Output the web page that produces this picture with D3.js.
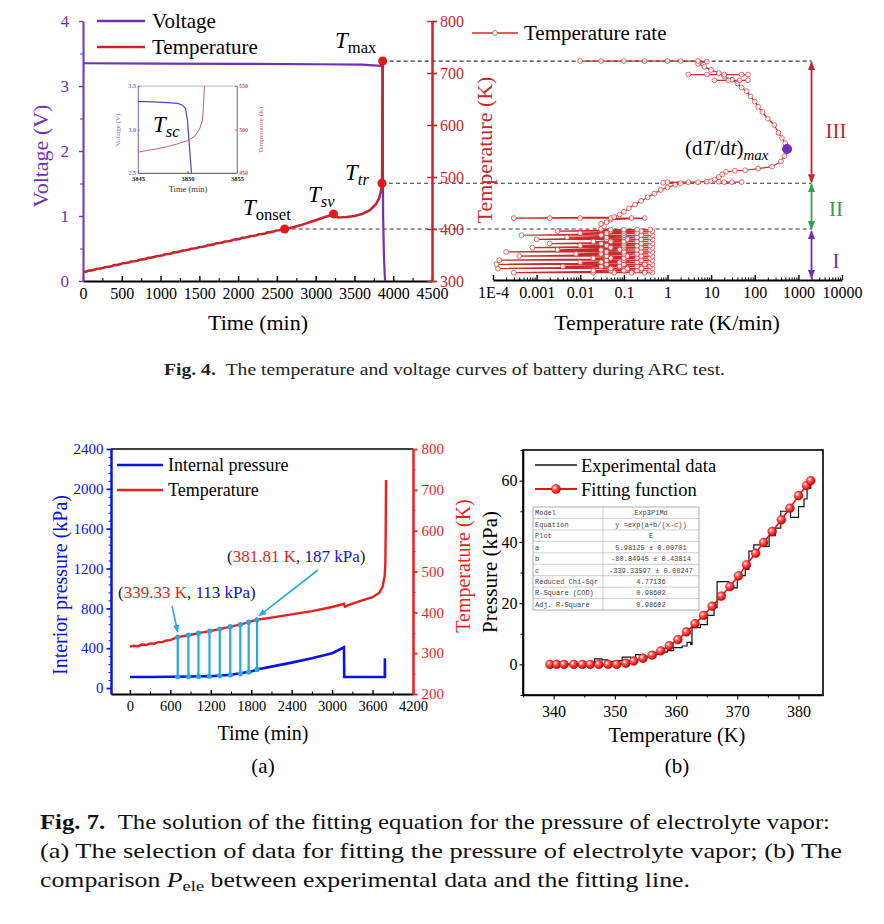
<!DOCTYPE html>
<html>
<head>
<meta charset="utf-8">
<script src="https://cdn.jsdelivr.net/npm/d3@7"></script>
<style>body{margin:0;background:#fff}</style>
</head>
<body>
<div id="chart"></div>
<script>
// ---------- data ----------
// Fig. 4 left: ARC test
const arcTime = [0,40,70,110,150,180,220,260,290,330,370,400,440,480,510,550,590,620,660,700,730,770,810,840,880,920,950,990,1030,1060,1100,1140,1170,1210,1250,1280,1320,1360,1390,1430,1470,1500,1540,1580,1610,1650,1690,1720,1760,1800,1830,1870,1910,1940,1980,2020,2050,2090,2130,2160,2200,2240,2270,2310,2350,2380,2420,2460,2490,2530,2600,2700,2800,2900,3000,3100,3200,3230,3250,3300,3400,3500,3600,3700,3780,3820,3845,3855,3858,3860,3862,3864];
const arcTemp = [317,318,320,320.5,321.5,323.5,324,325,327,327.5,328.5,330.5,331,332,334,334.5,335.5,337.5,338,339,341,341.5,342.5,344.5,345,346,348,348.5,349.5,351.5,352,353,355,355.5,356.5,358.5,359,360,362,362.5,363.5,365.5,366,367,369,369.5,370.5,372.5,373,374,376,376.5,377.5,379.5,380,381,383,383.5,384.5,386.5,387,388,390,390.5,391.5,393.5,394,395,397,397.5,400,403,407,412,417,422,427,429,424,422,423,425,429,436,448,460,475,488,520,600,680,723];
const voltTime = [0,1000,2000,3000,3600,3840,3860,3864,3866,3870,3880,3890,3895];
const voltValue = [3.35,3.345,3.34,3.335,3.33,3.31,3.30,3.2,2.0,1.0,0.4,0.1,0];
const keyPointTime = [2600,3230,3855,3864];
const keyPointTemp = [400,429,488,723];

// inset (short circuit)
const insetTime = [3845,3846,3847,3848,3849,3849.5,3849.8,3850,3850.2,3850.4];
const insetVolt = [3.32,3.32,3.315,3.31,3.30,3.28,3.24,3.1,2.8,2.5];
const insetTTime = [3845,3846,3847,3848,3849,3850,3850.7,3851.2,3851.5,3851.6,3851.7];
const insetTemp = [474,476,478,480.5,483.5,487,492,500,510,525,550];

// Fig. 4 right: temperature rate (K/min) vs temperature (K)
const rateLow = [
  [0.45,316],[0.3,316],[0.15,316],[0.06,316],[0.02,316],[3e-4,316],
  [0.4,320],[0.2,320],[0.1,320],[0.05,320],[0.02,320],
  [0.45,324],[0.25,324],[0.12,324],[0.05,324],[1.3e-4,324],
  [0.4,328],[0.2,328],[0.08,328],[0.03,328],[0.004,328],
  [0.45,332],[0.3,332],[0.1,332],[0.04,332],[1.2e-4,332],
  [0.4,336],[0.2,336],[0.08,336],[0.03,336],[0.01,336],
  [0.45,340],[0.25,340],[0.1,340],[0.04,340],[1.4e-4,340],
  [0.4,344],[0.2,344],[0.1,344],[0.05,344],[0.02,344],
  [0.45,348],[0.25,348],[0.12,348],[0.04,348],[4e-4,348],
  [0.4,352],[0.2,352],[0.1,352],[0.03,352],[0.008,352],
  [0.45,356],[0.25,356],[0.1,356],[0.04,356],[2e-4,356],
  [0.4,360],[0.2,360],[0.08,360],[0.03,360],[0.003,360],
  [0.45,364],[0.25,364],[0.1,364],[0.05,364],[8e-4,364],
  [0.4,368],[0.2,368],[0.1,368],[0.04,368],[0.01,368],
  [0.45,372],[0.25,372],[0.1,372],[0.03,372],[0.002,372],
  [0.4,376],[0.2,376],[0.1,376],[0.05,376],[0.02,376],
  [0.45,380],[0.25,380],[0.12,380],[0.04,380],[1e-3,380],
  [0.4,384],[0.2,384],[0.1,384],[0.04,384],[0.005,384],
  [0.45,388],[0.25,388],[0.1,388],[0.03,388],[4.5e-4,388],
  [0.4,392],[0.2,392],[0.1,392],[0.04,392],[0.01,392],
  [0.45,396],[0.25,396],[0.1,396],[0.05,396],[0.003,396],
  [0.4,399],[0.2,399],[0.1,399],[0.05,399],[0.03,400]
];
const rateHigh = [
  [0.035,405],[0.03,410],[0.04,413],[0.05,418],[0.3,421],[0.15,421],[0.05,421],[0.01,421],[0.002,421],[3e-4,421],
  [0.06,423],[0.08,428],[0.1,433],[0.13,440],[0.18,447],[0.25,454],[0.35,461],[0.5,468],[0.7,475],[1,480],[1.5,485],[2,488],
  [0.8,489],[1,490],[3,490],[5,490],[8,491],[15,491],[30,490],[50,490],[20,490],[10,492],
  [12,495],[15,500],[18,505],[22,510],[35,512],[60,513],[120,516],[250,520],[400,530],[480,540],[550,554],
  [500,565],[420,575],[350,585],[280,600],[200,612],[150,625],[120,635],[100,645],[80,655],[65,665],[50,672],[40,680],[30,687],[20,693],[15,700],[10,706],[7,712],[5,718],[8,722],
  [5,723],[2,723],[1,723],[0.3,723],[0.1,723],[0.03,723],[0.01,723]
];
const rateBranchA = [[3,697],[8,697],[20,697],[50,697],[70,697]];
const rateBranchB = [[12,686],[25,686],[45,686],[70,686]];
const rateMax = [550,554];
const rateTickValues = [1e-4,1e-3,1e-2,1e-1,1,10,100,1000,10000];
const rateTickLabels = ["1E-4","0.001","0.01","0.1","1","10","100","1000","10000"];

// Fig. 7 (a)
const pressTime = [0,300,600,900,1200,1500,1800,1900,2100,2400,2700,3000,3176,3180,3782,3783,3785,3800];
const pressValue = [110,111,113,115,119,133,165,188,215,255,300,350,409,110,110,300,110,110];
const tempATime = [0,60,120,180,240,300,360,420,480,540,600,660,710,868,1017,1181,1334,1489,1638,1762,1886,2100,2400,2700,3000,3176,3190,3250,3400,3600,3700,3750,3780,3790,3795,3800,3803];
const tempAValue = [316,318,317,321,320,324,323,327,327,331,332,336,339.3,344,349,354,359,365,370,376,381.8,387,395,403,413,421,414,418,427,437,448,463,490,520,600,724,705];
const selTime = [710,868,1017,1181,1334,1489,1638,1762,1886];
const selTemp = [339.3,344,349,354,359,365,370,376,381.8];
const selPress = [113,114,116,119,124,132,143,160,187];
const noteLabels = [["339.33 K","113 kPa"],["381.81 K","187 kPa"]];

// Fig. 7 (b)
const fitT = [339.4,340.5,341.7,343.3,344.7,346.0,347.4,348.9,350.3,351.8,353.1,354.6,356.1,357.5,358.9,360.3,361.7,363.1,364.5,365.9,367.4,368.8,370.2,371.5,373.0,374.3,375.7,377.2,378.6,380.0,381.3,382.0];
const fitP = [0,0,0,0,0,0,0,0,0,0.4,1.1,2.0,3.0,4.4,6.1,8.1,10.6,13.3,16.0,19.0,22.3,25.4,28.9,32.5,36.3,39.8,43.4,47.2,51.0,55.1,58.4,60.0];
const expT = [339.4,346.3,346.7,347.9,348.8,350.4,351.2,352.6,353.4,354.7,356.1,357.2,358.6,359.6,361.0,361.8,362.4,362.6,364.0,365.1,366.2,366.7,367.8,368.6,370.0,371.3,371.9,372.7,374.3,375.2,376.2,377.1,378.7,380.0,380.9,381.4,382.0];
const expP = [0,0.2,1.8,1.5,1.0,1.2,2.4,2.0,3.2,2.6,3.3,4.0,4.5,5.5,6.0,7.2,6.5,12,13,16,18.5,27,27,25,29,31,37,39,38.5,42,44.5,50,48,51.5,54,57.5,59];
const tableLabels = ["Model","Equation","Plot","a","b","c","Reduced Chi-Sqr","R-Square (COD)","Adj. R-Square"];
const tableValues = ["Exp3P1Md","y =exp(a+b/(x-c))","E","5.98125 \u00b1 0.00701","-80.84945 \u00b1 0.43814","-339.33597 \u00b1 0.08247","4.77136","0.98602","0.98602"];

// ---------- drawing ----------
const FONT = "'Liberation Serif','Times New Roman',serif";
const C_PURPLE = "#7030b8";
const C_DRED = "#c4262c";
const C_RED = "#ee1c1c";
const C_BLUE = "#0a10ee";
const C_LBLUE = "#2aa7e0";
const C_GREEN = "#2e9e4f";
const fmtInt = d3.format("d");

const svg = d3.select("#chart").append("svg")
    .attr("width", 884).attr("height", 924)
    .style("background", "#ffffff");
const defs = svg.append("defs");

function fn_marker(id, color, size) {
    defs.append("marker").attr("id", id)
        .attr("viewBox", "0 0 10 10").attr("refX", 9).attr("refY", 5)
        .attr("markerWidth", size).attr("markerHeight", size)
        .attr("orient", "auto-start-reverse")
        .append("path").attr("d", "M0,1 L10,5 L0,9 z").attr("fill", color);
}
fn_marker("arr_red", C_DRED, 5);
fn_marker("arr_green", C_GREEN, 5);
fn_marker("arr_purple", C_PURPLE, 5);
fn_marker("arr_lblue", C_LBLUE, 5);

const ball = defs.append("radialGradient").attr("id", "ball")
    .attr("cx", "35%").attr("cy", "35%").attr("r", "65%");
ball.append("stop").attr("offset", "0%").attr("stop-color", "#ffffff");
ball.append("stop").attr("offset", "35%").attr("stop-color", "#ff6060");
ball.append("stop").attr("offset", "100%").attr("stop-color", "#d00000");

function fn_style_axis(g, color, size, width) {
    g.select(".domain").attr("stroke", color).attr("stroke-width", width);
    g.selectAll(".tick line").attr("stroke", color).attr("stroke-width", Math.max(1, width * 0.7));
    g.selectAll(".tick text").attr("fill", color)
        .style("font-family", FONT).style("font-size", size + "px");
    return g;
}
function fn_minor(g) {
    g.select(".domain").remove();
    return g;
}
function fn_text(parent, x, y, str, size, color, anchor) {
    return parent.append("text").attr("x", x).attr("y", y).text(str)
        .style("font-family", FONT).style("font-size", size + "px")
        .attr("fill", color || "#000").attr("text-anchor", anchor || "start");
}
function fn_vtext(parent, x, y, str, size, color) {
    return parent.append("text")
        .attr("transform", "translate(" + x + "," + y + ") rotate(-90)")
        .attr("text-anchor", "middle").attr("dominant-baseline", "central").text(str)
        .style("font-family", FONT).style("font-size", size + "px").attr("fill", color);
}
function fn_sub_label(parent, x, y, main, sub, size, subItalic) {
    let t = parent.append("text").attr("x", x).attr("y", y)
        .style("font-family", FONT).style("font-size", size + "px");
    t.append("tspan").text(main).style("font-style", "italic");
    t.append("tspan").text(sub).attr("dy", size * 0.22)
        .style("font-size", (size * 0.72) + "px")
        .style("font-style", subItalic ? "italic" : "normal");
    return t;
}

// shared scales of Fig. 4
const xTime = d3.scaleLinear().domain([0, 4500]).range([83, 432]);
const yVolt = d3.scaleLinear().domain([0, 4]).range([281, 21]);
const yTemp = d3.scaleLinear().domain([300, 800]).range([281, 21]);
const xRate = d3.scaleLog().domain([1e-4, 1e4]).range([493, 842]);
const xArrow = xRate(2000);

function fn_panel_arc() {
    let g = svg.append("g").classed("g_arc", true);

    // dashed guides
    [[keyPointTime[0], keyPointTemp[0]], [keyPointTime[2], keyPointTemp[2]], [keyPointTime[3], keyPointTemp[3]]]
        .forEach(p => {
            g.append("line")
                .attr("x1", xTime(p[0])).attr("x2", xArrow)
                .attr("y1", yTemp(p[1])).attr("y2", yTemp(p[1]))
                .attr("stroke", "#333").attr("stroke-width", 1.2)
                .attr("stroke-dasharray", "4,3");
        });

    // axes
    fn_minor(fn_style_axis(g.append("g").attr("transform", "translate(0,281)")
        .call(d3.axisBottom(xTime).tickValues(d3.range(250, 4500, 500)).tickSize(-3).tickFormat("")), "#000", 16, 1.5));
    fn_style_axis(g.append("g").attr("transform", "translate(0,281)")
        .call(d3.axisBottom(xTime).tickValues(d3.range(0, 4501, 500)).tickFormat(fmtInt).tickSize(-5).tickPadding(7).tickSizeOuter(0)), "#000", 16, 2);

    fn_minor(fn_style_axis(g.append("g").attr("transform", "translate(83,0)")
        .call(d3.axisLeft(yVolt).tickValues([0.5, 1.5, 2.5, 3.5]).tickSize(3).tickFormat("")), C_PURPLE, 16, 1.5));
    fn_style_axis(g.append("g").attr("transform", "translate(83,0)")
        .call(d3.axisLeft(yVolt).tickValues([0, 1, 2, 3, 4]).tickFormat(fmtInt).tickSize(4).tickPadding(10).tickSizeOuter(0)), C_PURPLE, 17, 2);

    fn_minor(fn_style_axis(g.append("g").attr("transform", "translate(432,0)")
        .call(d3.axisLeft(yTemp).tickValues(d3.range(300, 801, 100)).tickSize(5).tickFormat("")), C_DRED, 16, 2));
    fn_style_axis(g.append("g").attr("transform", "translate(432,0)")
        .call(d3.axisRight(yTemp).tickValues(d3.range(300, 801, 100)).tickFormat(fmtInt).tickSize(5).tickPadding(3).tickSizeOuter(0)), C_DRED, 16, 2.5);

    // curves
    let lineV = d3.line().x(d => xTime(d[0])).y(d => yVolt(d[1]));
    let lineT = d3.line().x(d => xTime(d[0])).y(d => yTemp(d[1]));
    g.append("path").datum(d3.zip(voltTime, voltValue)).attr("d", lineV)
        .attr("fill", "none").attr("stroke", C_PURPLE).attr("stroke-width", 2.2);
    g.append("path").datum(d3.zip(arcTime, arcTemp)).attr("d", lineT)
        .attr("fill", "none").attr("stroke", C_DRED).attr("stroke-width", 2.6);

    g.selectAll("circle.key").data(d3.zip(keyPointTime, keyPointTemp)).join("circle")
        .classed("key", true)
        .attr("cx", d => xTime(d[0])).attr("cy", d => yTemp(d[1]))
        .attr("r", 4.5).attr("fill", "#e01818");

    fn_sub_label(g, 335, 48, "T", "max", 23, false);
    fn_sub_label(g, 345, 180, "T", "tr", 23, true);
    fn_sub_label(g, 308, 202, "T", "sv", 23, true);
    fn_sub_label(g, 243, 215, "T", "onset", 23, false);

    // legend
    g.append("line").attr("x1", 97).attr("x2", 145).attr("y1", 21).attr("y2", 21)
        .attr("stroke", C_PURPLE).attr("stroke-width", 2.5);
    fn_text(g, 152, 28, "Voltage", 21);
    g.append("line").attr("x1", 97).attr("x2", 145).attr("y1", 47).attr("y2", 47)
        .attr("stroke", C_DRED).attr("stroke-width", 2.5);
    fn_text(g, 152, 54, "Temperature", 21);

    // axis titles
    fn_vtext(g, 40, 156, "Voltage (V)", 22, C_PURPLE);
    fn_text(g, 258, 330, "Time (min)", 22, "#000", "middle");
    fn_vtext(g, 484, 150, "Temperature (K)", 22, C_DRED);

    // inset
    let gi = g.append("g").classed("g_inset", true);
    let xi = d3.scaleLinear().domain([3845, 3855]).range([138, 237]);
    let vi = d3.scaleLinear().domain([2.5, 3.5]).range([173, 86]);
    let ti = d3.scaleLinear().domain([450, 550]).range([173, 86]);
    gi.append("rect").attr("x", 138).attr("y", 86).attr("width", 99).attr("height", 87)
        .attr("fill", "#fff").attr("stroke", "#999").attr("stroke-width", 0.7);
    fn_style_axis(gi.append("g").attr("transform", "translate(0,173)")
        .call(d3.axisBottom(xi).tickValues([3845, 3850, 3855]).tickFormat(fmtInt).tickSize(-2).tickPadding(3).tickSizeOuter(0)), "#555", 6.5, 0.8)
        .selectAll(".tick text").attr("fill", "#222").style("font-weight", "bold");
    fn_style_axis(gi.append("g").attr("transform", "translate(138,0)")
        .call(d3.axisLeft(vi).tickValues([2.5, 3.0, 3.5]).tickFormat(d3.format(".1f")).tickSize(-2).tickPadding(2).tickSizeOuter(0)), "#8a6ad0", 6, 0.8)
        .selectAll(".tick text").style("font-weight", "bold");
    fn_style_axis(gi.append("g").attr("transform", "translate(237,0)")
        .call(d3.axisRight(ti).tickValues([450, 500, 550]).tickFormat(fmtInt).tickSize(-2).tickPadding(2).tickSizeOuter(0)), "#c86060", 6, 0.8)
        .selectAll(".tick text").style("font-weight", "bold");
    gi.append("path").datum(d3.zip(insetTime, insetVolt))
        .attr("d", d3.line().x(d => xi(d[0])).y(d => vi(d[1])))
        .attr("fill", "none").attr("stroke", "#5a3fc0").attr("stroke-width", 1.2);
    gi.append("path").datum(d3.zip(insetTTime, insetTemp))
        .attr("d", d3.line().x(d => xi(d[0])).y(d => ti(d[1])))
        .attr("fill", "none").attr("stroke", "#c06070").attr("stroke-width", 1);
    fn_vtext(gi, 118, 130, "Voltage (V)", 7, "#8a6ad0");
    fn_vtext(gi, 261, 130, "Temperature (K)", 7, "#c86060");
    fn_text(gi, 188, 192, "Time (min)", 8.5, "#333", "middle");
    fn_sub_label(gi, 153, 132, "T", "sc", 23, true);
}

function fn_panel_rate() {
    let g = svg.append("g").classed("g_rate", true);

    // minor log ticks
    let minors = [];
    rateTickValues.slice(0, -1).forEach(d => [2, 3, 4, 5, 6, 7, 8, 9].forEach(m => minors.push(d * m)));
    fn_minor(fn_style_axis(g.append("g").attr("transform", "translate(0,280)")
        .call(d3.axisBottom(xRate).tickValues(minors).tickSize(-2.5).tickFormat("")), "#000", 16, 1.2));
    fn_style_axis(g.append("g").attr("transform", "translate(0,280)")
        .call(d3.axisBottom(xRate).tickValues(rateTickValues).tickFormat((d, i) => rateTickLabels[i])
            .tickSize(-5).tickPadding(7).tickSizeOuter(0)), "#000", 16, 2);

    let line = d3.line().x(d => xRate(d[0])).y(d => yTemp(d[1]));
    [rateLow, rateHigh, rateBranchA, rateBranchB].forEach(data => {
        g.append("path").datum(data).attr("d", line)
            .attr("fill", "none").attr("stroke", "#cc2a2a").attr("stroke-width", 1.2);
    });
    [rateLow, rateHigh, rateBranchA, rateBranchB].forEach(data => {
        g.append("g").selectAll("circle").data(data).join("circle")
            .attr("cx", d => xRate(d[0])).attr("cy", d => yTemp(d[1]))
            .attr("r", 2.4).attr("fill", "#fff").attr("fill-opacity", 0.85)
            .attr("stroke", "#d04848").attr("stroke-width", 0.8);
    });
    g.append("circle").attr("cx", xRate(rateMax[0])).attr("cy", yTemp(rateMax[1]))
        .attr("r", 5).attr("fill", C_PURPLE);

    let lab = g.append("text").attr("x", 685).attr("y", 155)
        .style("font-family", FONT).style("font-size", "21px");
    lab.append("tspan").text("(d");
    lab.append("tspan").text("T").style("font-style", "italic");
    lab.append("tspan").text("/d");
    lab.append("tspan").text("t").style("font-style", "italic");
    lab.append("tspan").text(")");
    lab.append("tspan").text("max").attr("dy", 5).style("font-size", "15px").style("font-style", "italic");

    // stage arrows
    let stages = [[723, 488, "arr_red", C_DRED, "III", 138], [488, 398, "arr_green", C_GREEN, "II", 216], [398, 300, "arr_purple", C_PURPLE, "I", 268]];
    stages.forEach(s => {
        g.append("line").attr("x1", xArrow).attr("x2", xArrow)
            .attr("y1", yTemp(s[0]) + 1).attr("y2", Math.min(yTemp(s[1]) - 1, 278))
            .attr("stroke", s[3]).attr("stroke-width", 1.8)
            .attr("marker-start", "url(#" + s[2] + ")").attr("marker-end", "url(#" + s[2] + ")");
        fn_text(g, 836, s[5], s[4], 21, s[3], "middle");
    });

    // legend
    g.append("line").attr("x1", 472).attr("x2", 518).attr("y1", 33).attr("y2", 33)
        .attr("stroke", "#cc2a2a").attr("stroke-width", 1.5);
    g.append("circle").attr("cx", 495).attr("cy", 33).attr("r", 2.4)
        .attr("fill", "#fff").attr("stroke", "#d04848").attr("stroke-width", 0.8);
    fn_text(g, 524, 40, "Temperature rate", 21);

    fn_text(g, 667, 330, "Temperature rate (K/min)", 22, "#000", "middle");
}

function fn_panel_a() {
    let g = svg.append("g").classed("g_press", true);
    let x = d3.scaleLinear().domain([-280, 4200]).range([111, 413]);
    let yP = d3.scaleLinear().domain([-60, 2400]).range([694, 449]);
    let yT = d3.scaleLinear().domain([200, 800]).range([694, 449]);

    g.append("line").attr("x1", 111).attr("x2", 413).attr("y1", 449).attr("y2", 449)
        .attr("stroke", "#000").attr("stroke-width", 1.5);
    fn_minor(fn_style_axis(g.append("g").attr("transform", "translate(0,694)")
        .call(d3.axisBottom(x).tickValues(d3.range(300, 4200, 600)).tickSize(-2.5).tickFormat("")), "#000", 15, 1.2));
    fn_style_axis(g.append("g").attr("transform", "translate(0,694)")
        .call(d3.axisBottom(x).tickValues(d3.range(0, 4201, 600)).tickFormat(fmtInt).tickSize(-4).tickPadding(7).tickSizeOuter(0)), "#000", 14.5, 2);

    fn_minor(fn_style_axis(g.append("g").attr("transform", "translate(111,0)")
        .call(d3.axisLeft(yP).tickValues(d3.range(80, 2400, 80).filter(d => d % 400 !== 0)).tickSize(2.5).tickFormat("")), C_BLUE, 15, 1.2));
    fn_style_axis(g.append("g").attr("transform", "translate(111,0)")
        .call(d3.axisLeft(yP).tickValues(d3.range(0, 2401, 400)).tickFormat(fmtInt).tickSize(4.5).tickPadding(3).tickSizeOuter(0)), C_BLUE, 15, 2.5);

    fn_minor(fn_style_axis(g.append("g").attr("transform", "translate(413,0)")
        .call(d3.axisRight(yT).tickValues(d3.range(250, 800, 100)).tickSize(2.5).tickFormat("")), C_RED, 15, 1.2));
    fn_style_axis(g.append("g").attr("transform", "translate(413,0)")
        .call(d3.axisRight(yT).tickValues(d3.range(200, 801, 100)).tickFormat(fmtInt).tickSize(4.5).tickPadding(4).tickSizeOuter(0)), C_RED, 15, 2.5);

    g.append("path").datum(d3.zip(pressTime, pressValue))
        .attr("d", d3.line().x(d => x(d[0])).y(d => yP(d[1])))
        .attr("fill", "none").attr("stroke", C_BLUE).attr("stroke-width", 2.6);
    g.append("path").datum(d3.zip(tempATime, tempAValue))
        .attr("d", d3.line().x(d => x(d[0])).y(d => yT(d[1])))
        .attr("fill", "none").attr("stroke", C_RED).attr("stroke-width", 2.4);

    let sel = d3.zip(selTime, selTemp, selPress);
    g.selectAll("line.sel").data(sel).join("line").classed("sel", true)
        .attr("x1", d => x(d[0])).attr("x2", d => x(d[0]))
        .attr("y1", d => yP(d[2])).attr("y2", d => yT(d[1]))
        .attr("stroke", C_LBLUE).attr("stroke-width", 2.2);
    g.selectAll("circle.selT").data(sel).join("circle").classed("selT", true)
        .attr("cx", d => x(d[0])).attr("cy", d => yT(d[1])).attr("r", 2.6).attr("fill", C_LBLUE);
    g.selectAll("circle.selP").data(sel).join("circle").classed("selP", true)
        .attr("cx", d => x(d[0])).attr("cy", d => yP(d[2])).attr("r", 2.6).attr("fill", C_LBLUE);

    // annotations
    function fn_note(xp, yp, tt, pp) {
        let t = g.append("text").attr("x", xp).attr("y", yp)
            .style("font-family", FONT).style("font-size", "17px");
        t.append("tspan").text("(").attr("fill", "#222");
        t.append("tspan").text(tt).attr("fill", C_RED);
        t.append("tspan").text(", ").attr("fill", "#222");
        t.append("tspan").text(pp).attr("fill", C_BLUE);
        t.append("tspan").text(")").attr("fill", "#222");
    }
    fn_note(118, 598, noteLabels[0][0], noteLabels[0][1]);
    fn_note(227, 562, noteLabels[1][0], noteLabels[1][1]);
    g.append("line").attr("x1", 172).attr("y1", 606).attr("x2", x(selTime[0])).attr("y2", yT(selTemp[0]) - 5)
        .attr("stroke", C_LBLUE).attr("stroke-width", 1.6).attr("marker-end", "url(#arr_lblue)");
    g.append("line").attr("x1", 318).attr("y1", 570).attr("x2", x(selTime[8]) + 2).attr("y2", yT(selTemp[8]) - 4)
        .attr("stroke", C_LBLUE).attr("stroke-width", 1.6).attr("marker-end", "url(#arr_lblue)");

    // legend
    g.append("line").attr("x1", 117).attr("x2", 163).attr("y1", 465).attr("y2", 465)
        .attr("stroke", C_BLUE).attr("stroke-width", 2.6);
    fn_text(g, 168, 471, "Internal pressure", 18);
    g.append("line").attr("x1", 117).attr("x2", 163).attr("y1", 490).attr("y2", 490)
        .attr("stroke", C_RED).attr("stroke-width", 2.4);
    fn_text(g, 168, 496, "Temperature", 18);

    fn_vtext(g, 60, 585, "Interior pressure (kPa)", 20, C_BLUE);
    fn_vtext(g, 463, 566, "Temperature (K)", 20, C_RED);
    fn_text(g, 263, 740, "Time (min)", 20, "#000", "middle");
    fn_text(g, 263, 773, "(a)", 21, "#000", "middle");
}

function fn_panel_b() {
    let g = svg.append("g").classed("g_fit", true);
    let x = d3.scaleLinear().domain([335, 384]).range([523, 823]);
    let y = d3.scaleLinear().domain([-10, 70]).range([695, 450]);

    g.append("rect").attr("x", 523).attr("y", 450).attr("width", 300).attr("height", 245)
        .attr("fill", "none").attr("stroke", "#000").attr("stroke-width", 1.6);
    fn_minor(fn_style_axis(g.append("g").attr("transform", "translate(0,695)")
        .call(d3.axisBottom(x).tickValues([335, 345, 355, 365, 375]).tickSize(2.5).tickFormat("")), "#000", 16, 1.2));
    fn_style_axis(g.append("g").attr("transform", "translate(0,695)")
        .call(d3.axisBottom(x).tickValues([340, 350, 360, 370, 380]).tickFormat(fmtInt).tickSize(4.5).tickPadding(6).tickSizeOuter(0)), "#000", 16, 1.6);
    fn_minor(fn_style_axis(g.append("g").attr("transform", "translate(523,0)")
        .call(d3.axisLeft(y).tickValues([-10, 10, 30, 50, 70]).tickSize(2.5).tickFormat("")), "#000", 16, 1.2));
    fn_style_axis(g.append("g").attr("transform", "translate(523,0)")
        .call(d3.axisLeft(y).tickValues([0, 20, 40, 60]).tickFormat(fmtInt).tickSize(3.5).tickPadding(2).tickSizeOuter(0)), "#000", 16, 1.6);

    g.append("path").datum(d3.zip(expT, expP))
        .attr("d", d3.line().curve(d3.curveStepAfter).x(d => x(d[0])).y(d => y(d[1])))
        .attr("fill", "none").attr("stroke", "#111").attr("stroke-width", 1.2);
    g.append("path").datum(d3.zip(fitT, fitP))
        .attr("d", d3.line().x(d => x(d[0])).y(d => y(d[1])))
        .attr("fill", "none").attr("stroke", "#e81010").attr("stroke-width", 1.6);
    g.selectAll("circle.fit").data(d3.zip(fitT, fitP)).join("circle").classed("fit", true)
        .attr("cx", d => x(d[0])).attr("cy", d => y(d[1])).attr("r", 4.4)
        .attr("fill", "url(#ball)").attr("stroke", "#c00000").attr("stroke-width", 0.5);

    // fit table
    let tx = 533, tw = 166, ty = 507, rh = 11.45, split = 603;
    let gt = g.append("g").classed("g_table", true);
    gt.append("rect").attr("x", tx).attr("y", ty).attr("width", tw).attr("height", rh * tableLabels.length)
        .attr("fill", "#fff").attr("stroke", "#999").attr("stroke-width", 0.8);
    tableLabels.forEach((lbl, i) => {
        if (i > 0) gt.append("line").attr("x1", tx).attr("x2", tx + tw)
            .attr("y1", ty + i * rh).attr("y2", ty + i * rh).attr("stroke", "#aaa").attr("stroke-width", 0.6);
        gt.append("text").attr("x", tx + 2).attr("y", ty + i * rh + 8.3).text(lbl)
            .style("font-family", "'Liberation Mono','DejaVu Sans Mono',monospace").style("font-size", "7px").attr("fill", "#444");
        gt.append("text").attr("x", (split + tx + tw) / 2).attr("y", ty + i * rh + 8.3).text(tableValues[i])
            .attr("text-anchor", "middle")
            .style("font-family", "'Liberation Mono','DejaVu Sans Mono',monospace").style("font-size", "7px").attr("fill", "#444");
    });
    gt.append("line").attr("x1", split).attr("x2", split).attr("y1", ty).attr("y2", ty + rh * tableLabels.length)
        .attr("stroke", "#aaa").attr("stroke-width", 0.6);

    // legend
    g.append("line").attr("x1", 535).attr("x2", 577).attr("y1", 465).attr("y2", 465)
        .attr("stroke", "#111").attr("stroke-width", 1.3);
    fn_text(g, 581, 472, "Experimental data", 18.5);
    g.append("line").attr("x1", 535).attr("x2", 577).attr("y1", 489).attr("y2", 489)
        .attr("stroke", "#e81010").attr("stroke-width", 1.8);
    g.append("circle").attr("cx", 556).attr("cy", 489).attr("r", 4.6)
        .attr("fill", "url(#ball)").attr("stroke", "#c00000").attr("stroke-width", 0.5);
    fn_text(g, 581, 496, "Fitting function", 18.5);

    fn_vtext(g, 490, 572, "Pressure (kPa)", 21, "#000");
    fn_text(g, 677, 742, "Temperature (K)", 20.5, "#000", "middle");
    fn_text(g, 677, 773, "(b)", 21, "#000", "middle");
}

function fn_captions() {
    let c4 = svg.append("text").attr("x", 164).attr("y", 375)
        .attr("textLength", 561).attr("lengthAdjust", "spacingAndGlyphs")
        .style("font-family", FONT).style("font-size", "16.5px").attr("fill", "#222");
    c4.append("tspan").text("Fig. 4.").style("font-weight", "bold");
    c4.append("tspan").text("\u2002The temperature and voltage curves of battery during ARC test.");

    let cap = { size: "21px", fill: "#111" };
    let l1 = svg.append("text").attr("x", 40).attr("y", 829)
        .attr("textLength", 790).attr("lengthAdjust", "spacingAndGlyphs")
        .style("font-family", FONT).style("font-size", cap.size).attr("fill", cap.fill);
    l1.append("tspan").text("Fig. 7.").style("font-weight", "bold");
    l1.append("tspan").text("\u2002The solution of the fitting equation for the pressure of electrolyte vapor:");
    svg.append("text").attr("x", 40).attr("y", 858)
        .attr("textLength", 802).attr("lengthAdjust", "spacingAndGlyphs")
        .style("font-family", FONT).style("font-size", cap.size).attr("fill", cap.fill)
        .text("(a) The selection of data for fitting the pressure of electrolyte vapor; (b) The");
    let l3 = svg.append("text").attr("x", 40).attr("y", 887)
        .attr("textLength", 650).attr("lengthAdjust", "spacingAndGlyphs")
        .style("font-family", FONT).style("font-size", cap.size).attr("fill", cap.fill);
    l3.append("tspan").text("comparison ");
    l3.append("tspan").text("P").style("font-style", "italic");
    l3.append("tspan").text("ele").attr("dy", 4).style("font-size", "15px");
    l3.append("tspan").text(" between experimental data and the fitting line.").attr("dy", -4);
}

fn_panel_arc();
fn_panel_rate();
fn_panel_a();
fn_panel_b();
fn_captions();
</script>
</body>
</html>
